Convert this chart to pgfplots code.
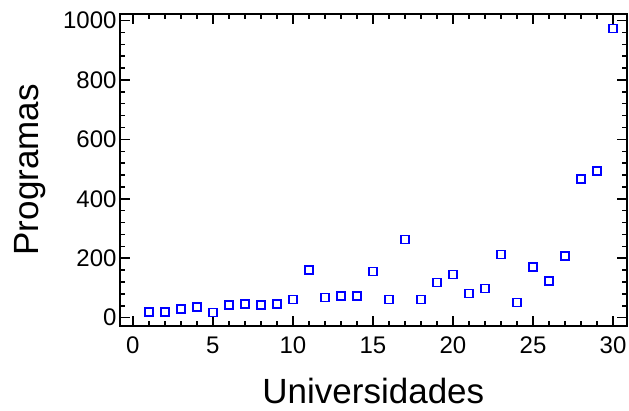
\documentclass[border=0pt]{standalone}
\usepackage{fontspec}
\setmainfont{Liberation Sans}
\usepackage{pgfplots}
\pgfplotsset{compat=1.18}
\begin{document}
\begin{tikzpicture}
\begin{axis}[
  name=ax,
  scale only axis,
  width=506.7pt, height=311.7pt,
  xmin=-0.8, xmax=30.85,
  ymin=-27, ymax=1022,
  xtick={0,5,...,30},
  ytick={0,200,...,1000},
  minor x tick num=4,
  minor y tick num=4,
  tick align=inside,
  major tick length=10pt,
  minor tick length=5pt,
  every tick/.style={line width=1.5pt, black},
  axis line style={line width=1.7pt},
  /pgf/number format/assume math mode=true,
  /pgf/number format/1000 sep={},
  tick label style={font=\fontsize{24}{24}\selectfont},
  xticklabel style={yshift=-8pt},
  xlabel={Universidades},
  ylabel={Programas},
  label style={font=\fontsize{35}{35}\selectfont, inner sep=0pt},
  xlabel style={at={(axis description cs:0.5,-0.208)}, anchor=center},
  ylabel style={at={(axis description cs:-0.178,0.5)}, anchor=center},
]
\addplot[only marks, mark=square, mark size=4pt, color=blue, mark options={line width=1.4pt}] coordinates {
(1,19) (2,19) (3,29) (4,36) (5,17) (6,42) (7,46) (8,42) (9,46) (10,62)
(11,160) (12,67) (13,73) (14,73) (15,155) (16,61) (17,264) (18,61) (19,118) (20,145)
(21,82) (22,98) (23,212) (24,51) (25,171) (26,124) (27,208) (28,467) (29,494) (30,973)
};
\end{axis}
\pgfresetboundingbox
\useasboundingbox ([shift={(-120pt,-85.3pt)}]ax.south west) rectangle ([shift={(2.3pt,14pt)}]ax.north east);
\end{tikzpicture}
\end{document}
